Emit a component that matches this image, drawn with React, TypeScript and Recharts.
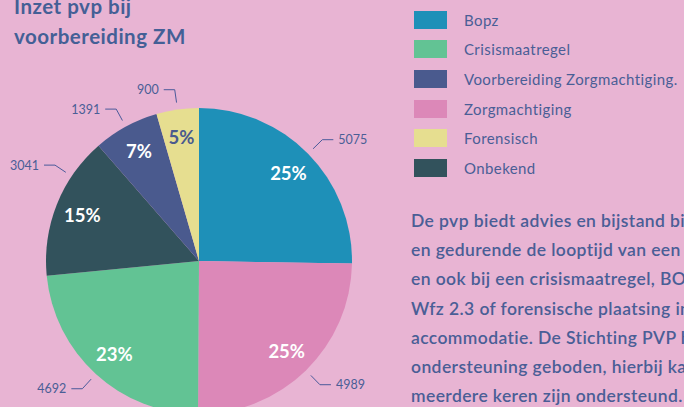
import { PieChart, Pie, Cell, Legend } from "recharts";

const sliceNames = ["Bopz", "Zorgmachtiging", "Crisismaatregel", "Onbekend", "Voorbereiding Zorgmachtiging.", "Forensisch"];
const sliceValues = [5075, 4989, 4692, 3041, 1391, 900];
const slicePercentLabels = ["25%", "25%", "23%", "15%", "7%", "5%"];
const sliceColors = ["#1e90b8", "#dc88b8", "#62c394", "#32525c", "#4a5a8e", "#e6de90"];

const legendNames = ["Bopz", "Crisismaatregel", "Voorbereiding Zorgmachtiging.", "Zorgmachtiging", "Forensisch", "Onbekend"];
const legendColors = ["#1e90b8", "#62c394", "#4a5a8e", "#dc88b8", "#e6de90", "#32525c"];

const titleLines = ["Inzet pvp bij", "voorbereiding ZM"];
const bodyLines = [
  "De pvp biedt advies en bijstand bij",
  "en gedurende de looptijd van een",
  "en ook bij een crisismaatregel, BO",
  "Wfz 2.3 of forensische plaatsing in",
  "accommodatie. De Stichting PVP h",
  "ondersteuning geboden, hierbij ka",
  "meerdere keren zijn ondersteund.",
];

const data = sliceNames.map((name, i) => ({ name, value: sliceValues[i], pct: slicePercentLabels[i] }));

const BG = "#e8b4d3";
const TEXT = "#4a5e96";
const FONT = "Lato, 'Open Sans', sans-serif";
const RADIAN = Math.PI / 180;

function renderLabel(props: any) {
  const { cx, cy, midAngle, outerRadius, value, index } = props;
  const elbowR = outerRadius + 20;
  let angle = midAngle;
  // rotate left-hand labels upward/downward so the number stays inside the frame
  const minElbowX = 55;
  if (cx + elbowR * Math.cos(angle * RADIAN) < minElbowX) {
    const a = Math.acos((minElbowX - cx) / elbowR) / RADIAN;
    angle = Math.sin(midAngle * RADIAN) >= 0 ? a : 360 - a;
  }
  const cos = Math.cos(-angle * RADIAN);
  const sin = Math.sin(-angle * RADIAN);
  const sx = cx + (outerRadius + 7) * cos;
  const sy = cy + (outerRadius + 7) * sin;
  const mx = cx + elbowR * cos;
  const my = cy + elbowR * sin;
  const right = cos >= 0;
  const ex = mx + (right ? 11 : -11);
  const tx = ex + (right ? 5 : -5);
  const pc = Math.cos(-midAngle * RADIAN);
  const ps = Math.sin(-midAngle * RADIAN);
  const ir = outerRadius * 0.82;
  const px = cx + ir * pc;
  const py = cy + ir * ps;
  const dark = sliceNames[index] === "Forensisch";
  return (
    <g>
      <polyline points={`${sx},${sy} ${mx},${my} ${ex},${my}`} fill="none" stroke="#4a5a9a" strokeWidth={1} />
      <text x={tx} y={my} textAnchor={right ? "start" : "end"} dominantBaseline="central" fill={TEXT} fontSize={12.5} fontFamily={FONT}>
        {value}
      </text>
      <text x={px} y={py} textAnchor="middle" dominantBaseline="central" fill={dark ? "#4a5a8e" : "#ffffff"} fontSize={18.5} fontWeight={700} fontFamily={FONT}>
        {data[index].pct}
      </text>
    </g>
  );
}

function LegendBox() {
  return (
    <div style={{ fontFamily: FONT }}>
      {legendNames.map((name, i) => (
        <div key={name} style={{ display: "flex", alignItems: "center", height: 29.6 }}>
          <div style={{ width: 33, height: 18, background: legendColors[i], marginRight: 17, flex: "none" }} />
          <span style={{ fontSize: 15, letterSpacing: 0.4, color: TEXT, whiteSpace: "nowrap" }}>{name}</span>
        </div>
      ))}
    </div>
  );
}

export default function App() {
  return (
    <div style={{ position: "fixed", left: 0, top: 0, width: 684, height: 407, overflow: "hidden", background: BG }}>
      <PieChart width={684} height={407} margin={{ top: 0, right: 0, bottom: 0, left: 0 }}>
        <Pie
          data={data}
          dataKey="value"
          nameKey="name"
          cx={199}
          cy={261}
          outerRadius={153}
          startAngle={90}
          endAngle={-270}
          stroke="none"
          label={renderLabel}
          labelLine={false}
          isAnimationActive={false}
        >
          {data.map((d, i) => (
            <Cell key={d.name} fill={sliceColors[i]} />
          ))}
        </Pie>
        <Legend content={() => <LegendBox />} wrapperStyle={{ position: "absolute", left: 414, top: 5, width: 270 }} />
      </PieChart>
      <svg width={684} height={407} style={{ position: "absolute", left: 0, top: 0, pointerEvents: "none" }}>
        {titleLines.map((t, i) => (
          <text key={t} x={14} y={14 + i * 29.5} fill="#445f96" fontSize={20.5} letterSpacing={0.5} fontWeight={700} fontFamily={FONT}>
            {t}
          </text>
        ))}
        {bodyLines.map((t, i) => (
          <text key={t} x={411} y={227 + i * 29.2} fill={TEXT} fontSize={17.5} letterSpacing={0.4} fontWeight={600} fontFamily={FONT}>
            {t}
          </text>
        ))}
      </svg>
    </div>
  );
}
